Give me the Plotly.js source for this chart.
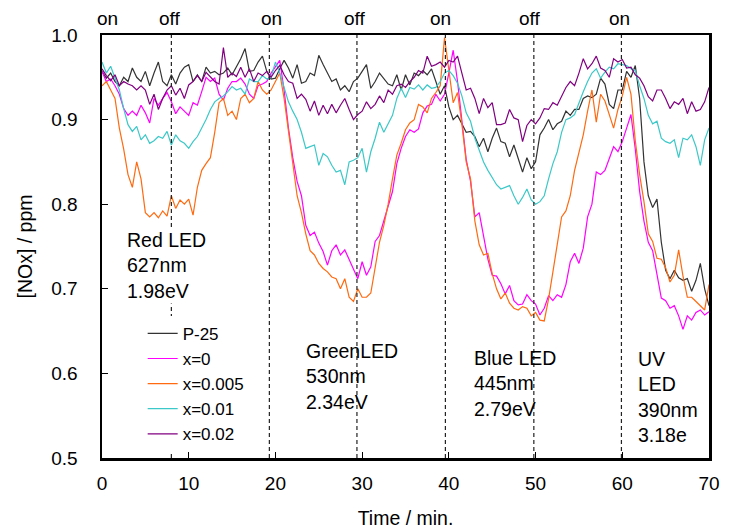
<!DOCTYPE html>
<html>
<head>
<meta charset="utf-8">
<script src="https://cdn.plot.ly/plotly-3.0.1.min.js"></script>
<style>
  html, body { margin: 0; padding: 0; background: #ffffff; }
  #chart { width: 736px; height: 529px; }
</style>
</head>
<body>
<div id="chart"></div>
<script>
// NOx concentration sampled every 0.5 min from t = 0 to 70 min
const sampleStartMin = 0;
const sampleStepMin = 0.5;

const seriesNames = ['P-25', 'x=0', 'x=0.005', 'x=0.01', 'x=0.02'];

const noxP25 = [
  0.957, 0.949, 0.955, 0.945, 0.940, 0.950, 0.945, 0.961, 0.950, 0.945,
  0.957, 0.940, 0.955, 0.968, 0.945, 0.940, 0.953, 0.942, 0.955, 0.962,
  0.965, 0.945, 0.953, 0.945, 0.962, 0.955, 0.957, 0.953, 0.955, 0.961,
  0.953, 0.962, 0.972, 0.984, 0.957, 0.958, 0.968, 0.975, 0.957, 0.948,
  0.949, 0.960, 0.970, 0.961, 0.949, 0.965, 0.943, 0.945, 0.955, 0.952,
  0.976, 0.965, 0.955, 0.945, 0.948, 0.935, 0.940, 0.933, 0.945, 0.949,
  0.957, 0.965, 0.937, 0.945, 0.955, 0.948, 0.942, 0.940, 0.953, 0.935,
  0.953, 0.941, 0.955, 0.952, 0.958, 0.953, 0.960, 0.945, 0.930, 0.940,
  0.915, 0.900, 0.905, 0.895, 0.885, 0.886, 0.880, 0.868, 0.878, 0.862,
  0.878, 0.890, 0.874, 0.872, 0.856, 0.870, 0.855, 0.838, 0.855, 0.842,
  0.850, 0.882, 0.890, 0.900, 0.888, 0.895, 0.898, 0.910, 0.905, 0.912,
  0.912, 0.925, 0.928, 0.926, 0.930, 0.949, 0.942, 0.918, 0.913, 0.935,
  0.935, 0.957, 0.950, 0.964, 0.925, 0.850, 0.810, 0.796, 0.806, 0.755,
  0.722, 0.712, 0.722, 0.713, 0.710, 0.712, 0.697, 0.710, 0.730, 0.700,
  0.680
];

const noxX0 = [
  0.957, 0.945, 0.948, 0.940, 0.930, 0.913, 0.905, 0.910, 0.905, 0.917,
  0.908, 0.896, 0.925, 0.917, 0.925, 0.932, 0.921, 0.907, 0.915, 0.910,
  0.905, 0.920, 0.917, 0.933, 0.950, 0.945, 0.949, 0.930, 0.923, 0.937,
  0.945, 0.945, 0.949, 0.942, 0.930, 0.925, 0.940, 0.942, 0.945, 0.955,
  0.963, 0.970, 0.935, 0.890, 0.855, 0.827, 0.810, 0.775, 0.763, 0.767,
  0.754, 0.744, 0.728, 0.745, 0.752, 0.740, 0.746, 0.735, 0.724, 0.712,
  0.732, 0.716, 0.726, 0.756, 0.763, 0.780, 0.797, 0.815, 0.848, 0.866,
  0.880, 0.888, 0.885, 0.889, 0.908, 0.916, 0.918, 0.930, 0.922, 0.930,
  0.955, 0.982, 0.945, 0.895, 0.853, 0.827, 0.785, 0.790, 0.760, 0.735,
  0.716, 0.715, 0.706, 0.694, 0.704, 0.686, 0.681, 0.682, 0.693, 0.686,
  0.682, 0.669, 0.677, 0.692, 0.686, 0.693, 0.690, 0.705, 0.732, 0.742,
  0.730, 0.748, 0.785, 0.800, 0.838, 0.835, 0.840, 0.855, 0.868, 0.862,
  0.874, 0.890, 0.906, 0.865, 0.815, 0.780, 0.755, 0.745, 0.716, 0.689,
  0.686, 0.677, 0.680, 0.668, 0.652, 0.668, 0.663, 0.672, 0.675, 0.669,
  0.673
];

const noxX0005 = [
  0.940, 0.945, 0.935, 0.925, 0.890, 0.865, 0.835, 0.820, 0.850, 0.830,
  0.790, 0.785, 0.790, 0.784, 0.792, 0.786, 0.810, 0.795, 0.805, 0.800,
  0.806, 0.787, 0.820, 0.840, 0.848, 0.855, 0.885, 0.920, 0.925, 0.905,
  0.910, 0.900, 0.925, 0.930, 0.920, 0.925, 0.945, 0.935, 0.930, 0.935,
  0.945, 0.955, 0.925, 0.885, 0.845, 0.810, 0.790, 0.765, 0.745, 0.740,
  0.730, 0.724, 0.720, 0.714, 0.712, 0.700, 0.712, 0.690, 0.685, 0.700,
  0.690, 0.690, 0.695, 0.725, 0.755, 0.775, 0.800, 0.830, 0.858, 0.872,
  0.888, 0.896, 0.900, 0.918, 0.915, 0.908, 0.925, 0.932, 0.940, 0.997,
  0.955, 0.920, 0.932, 0.895, 0.850, 0.830, 0.780, 0.752, 0.740, 0.742,
  0.718, 0.700, 0.688, 0.695, 0.683, 0.677, 0.675, 0.679, 0.677, 0.668,
  0.672, 0.663, 0.662, 0.688, 0.720, 0.752, 0.785, 0.792, 0.810, 0.840,
  0.860, 0.882, 0.910, 0.935, 0.897, 0.930, 0.922, 0.905, 0.890, 0.912,
  0.928, 0.950, 0.930, 0.875, 0.835, 0.803, 0.765, 0.756, 0.736, 0.735,
  0.725, 0.708, 0.716, 0.746, 0.715, 0.690, 0.690, 0.685, 0.680, 0.675,
  0.705
];

const noxX001 = [
  0.968, 0.955, 0.963, 0.949, 0.935, 0.913, 0.894, 0.886, 0.892, 0.876,
  0.882, 0.872, 0.875, 0.880, 0.878, 0.886, 0.870, 0.882, 0.875, 0.872,
  0.866, 0.874, 0.880, 0.890, 0.900, 0.912, 0.921, 0.925, 0.928, 0.933,
  0.939, 0.935, 0.937, 0.930, 0.948, 0.945, 0.945, 0.952, 0.948, 0.950,
  0.968, 0.955, 0.938, 0.921, 0.910, 0.900, 0.885, 0.866, 0.868, 0.870,
  0.846, 0.860, 0.856, 0.846, 0.838, 0.840, 0.823, 0.850, 0.852, 0.855,
  0.866, 0.838, 0.862, 0.878, 0.897, 0.885, 0.895, 0.905, 0.925, 0.937,
  0.926, 0.938, 0.936, 0.941, 0.935, 0.941, 0.937, 0.938, 0.945, 0.955,
  0.958, 0.952, 0.943, 0.928, 0.908, 0.898, 0.878, 0.864, 0.850, 0.840,
  0.832, 0.823, 0.818, 0.820, 0.822, 0.810, 0.800, 0.808, 0.818, 0.805,
  0.800, 0.803, 0.810, 0.830, 0.848, 0.862, 0.885, 0.900, 0.902, 0.906,
  0.920, 0.933, 0.945, 0.955, 0.960, 0.949, 0.956, 0.962, 0.960, 0.966,
  0.965, 0.964, 0.960, 0.958, 0.940, 0.925, 0.905, 0.895, 0.898, 0.878,
  0.874, 0.872, 0.876, 0.855, 0.878, 0.876, 0.882, 0.868, 0.846, 0.876,
  0.890
];

const noxX002 = [
  0.960, 0.952, 0.946, 0.953, 0.940, 0.945, 0.942, 0.940, 0.935, 0.940,
  0.935, 0.918, 0.930, 0.912, 0.925, 0.935, 0.940, 0.929, 0.937, 0.925,
  0.941, 0.945, 0.952, 0.945, 0.956, 0.950, 0.945, 0.942, 0.985, 0.950,
  0.955, 0.951, 0.962, 0.950, 0.960, 0.945, 0.955, 0.952, 0.957, 0.950,
  0.958, 0.964, 0.953, 0.945, 0.943, 0.925, 0.930, 0.924, 0.910, 0.922,
  0.905, 0.917, 0.907, 0.918, 0.908, 0.917, 0.925, 0.912, 0.900, 0.906,
  0.910, 0.921, 0.913, 0.918, 0.928, 0.920, 0.935, 0.930, 0.940, 0.942,
  0.938, 0.945, 0.950, 0.958, 0.955, 0.975, 0.963, 0.965, 0.968, 0.962,
  0.970, 0.968, 0.975, 0.955, 0.935, 0.937, 0.925, 0.907, 0.925, 0.914,
  0.920, 0.894, 0.894, 0.896, 0.912, 0.902, 0.900, 0.874, 0.893, 0.900,
  0.895, 0.902, 0.913, 0.912, 0.920, 0.917, 0.927, 0.938, 0.945, 0.940,
  0.955, 0.972, 0.960, 0.966, 0.975, 0.961, 0.958, 0.950, 0.972, 0.968,
  0.971, 0.961, 0.962, 0.953, 0.949, 0.940, 0.927, 0.922, 0.935, 0.935,
  0.925, 0.913, 0.921, 0.918, 0.925, 0.907, 0.921, 0.910, 0.912, 0.921,
  0.938
];

// LED switching instants (min) and the state label shown above the plot
const switchTimes = [8, 19.3, 29.4, 39.6, 49.8, 59.9];
const stateLabels = ['on', 'off', 'on', 'off', 'on', 'off', 'on'];
const stateLabelTimes = [0.67, 7.84, 19.5, 29.2, 39.0, 49.4, 59.7];

// LED descriptions
const ledTexts = [
  'Red LED<br>627nm<br>1.98eV',
  'GreenLED<br>530nm<br>2.34eV',
  'Blue LED<br>445nm<br>2.79eV',
  'UV<br>LED<br>390nm<br>3.18e'
];
const ledTextTimes = [2.65, 23.3, 42.7, 61.6];
const ledTextLevels = [0.727, 0.596, 0.5875, 0.5727];

const seriesValues = [noxP25, noxX0, noxX0005, noxX001, noxX002];
const seriesColors = ['#333333', '#ff00ff', '#ff6a10', '#3cc8c8', '#800080'];

const FONT = 'Liberation Sans, Arial, sans-serif';

const traces = seriesValues.map((vals, i) => ({
  type: 'scatter',
  mode: 'lines',
  name: seriesNames[i],
  x0: sampleStartMin,
  dx: sampleStepMin,
  y: vals,
  line: { color: seriesColors[i], width: 1.2 }
}));

const shapes = switchTimes.map(t => ({
  type: 'line', xref: 'x', yref: 'paper',
  x0: t, x1: t, y0: 0, y1: 1,
  line: { color: '#222222', width: 1.2, dash: '4px,3px' }
}));

const annotations = [];
stateLabels.forEach((lab, i) => {
  annotations.push({
    xref: 'x', yref: 'paper', x: stateLabelTimes[i], y: 1.04,
    text: lab, showarrow: false, xanchor: 'center', yanchor: 'middle',
    font: { family: FONT, size: 19, color: '#000000' }
  });
});
ledTexts.forEach((txt, i) => {
  annotations.push({
    xref: 'x', yref: 'y', x: ledTextTimes[i], y: ledTextLevels[i],
    text: txt, showarrow: false, xanchor: 'left', yanchor: 'middle', align: 'left',
    bgcolor: i === 0 ? '#ffffff' : 'rgba(0,0,0,0)',
    font: { family: FONT, size: 19.5, color: '#000000' }
  });
});

const axisCommon = {
  showline: true, linecolor: '#000000', linewidth: 2.5, mirror: true,
  ticks: 'inside', ticklen: 6, tickwidth: 1.2, tickcolor: '#000000',
  showgrid: false, zeroline: false,
  tickfont: { family: FONT, size: 19, color: '#000000' }
};

const layout = {
  width: 736, height: 529,
  margin: { l: 102, r: 27, t: 35, b: 71 },
  paper_bgcolor: '#ffffff', plot_bgcolor: '#ffffff',
  font: { family: FONT, color: '#000000' },
  showlegend: true,
  legend: {
    x: 0.067, y: 0.336, xanchor: 'left', yanchor: 'top',
    bgcolor: '#ffffff', borderwidth: 0,
    traceorder: 'normal',
    font: { family: FONT, size: 17, color: '#000000' },
    itemwidth: 30
  },
  xaxis: Object.assign({}, axisCommon, {
    range: [0, 70], tick0: 0, dtick: 10,
    ticklabelstandoff: 7,
    title: { text: 'Time / min.', font: { family: FONT, size: 19.5, color: '#000000' }, standoff: 20 }
  }),
  yaxis: Object.assign({}, axisCommon, {
    range: [0.5, 1.0], tick0: 0.5, dtick: 0.1, tickformat: '.1f',
    ticklabelstandoff: 18,
    title: { text: '[NOx] / ppm', font: { family: FONT, size: 19.5, color: '#000000' }, standoff: 14 }
  }),
  shapes: shapes,
  annotations: annotations
};

Plotly.newPlot('chart', traces, layout, { displayModeBar: false, staticPlot: true });
</script>
</body>
</html>
